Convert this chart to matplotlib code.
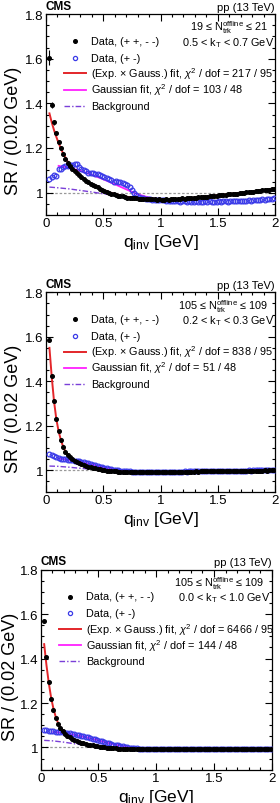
import numpy as np
import matplotlib
matplotlib.use('Agg')
import matplotlib.pyplot as plt
from matplotlib.lines import Line2D
from matplotlib.ticker import MultipleLocator, FuncFormatter

plt.rcParams['font.family'] = ['Liberation Sans', 'DejaVu Sans']
plt.rcParams['mathtext.fontset'] = 'custom'
plt.rcParams['mathtext.rm'] = 'Liberation Sans'
plt.rcParams['mathtext.it'] = 'Liberation Sans:italic'
plt.rcParams['mathtext.bf'] = 'Liberation Sans:bold'

# ---------------- data ----------------
q_centers = np.round(0.03 + 0.02 * np.arange(99), 3)  # bin centres [GeV]

# Panel 1: 19 <= N <= 21, 0.5 < kT < 0.7
p1_like = [1.605, 1.392, 1.315, 1.265, 1.228, 1.200, 1.172, 1.150, 1.132, 1.118,
           1.106, 1.095, 1.086, 1.077, 1.068, 1.060, 1.052, 1.046, 1.040, 1.035,
           1.030, 1.025, 1.018, 1.012, 1.008, 1.003, 0.999, 0.996, 0.993, 0.990,
           0.987, 0.985, 0.983, 0.980, 0.978, 0.977, 0.976, 0.975, 0.974, 0.973,
           0.972, 0.973, 0.971, 0.972, 0.970, 0.971, 0.970, 0.969, 0.970, 0.968,
           0.969, 0.970, 0.968, 0.971, 0.970, 0.972, 0.971, 0.973, 0.974, 0.973,
           0.975, 0.976, 0.975, 0.978, 0.977, 0.979, 0.980, 0.981, 0.982, 0.981,
           0.984, 0.985, 0.986, 0.985, 0.988, 0.989, 0.990, 0.989, 0.992, 0.993,
           0.994, 0.996, 0.995, 0.998, 0.999, 1.000, 1.002, 1.001, 1.004, 1.005,
           1.006, 1.008, 1.007, 1.010, 1.012, 1.011, 1.014, 1.016, 1.015]
p1_like_err = [0.035, 0.015, 0.010, 0.007, 0.006]
p1_unlike = [1.060, 1.068, 1.078, 1.074, 1.105, 1.108, 1.115, 1.120, 1.118, 1.122,
             1.125, 1.130, 1.127, 1.115, 1.105, 1.100, 1.095, 1.090, 1.090, 1.088,
             1.084, 1.082, 1.080, 1.075, 1.070, 1.066, 1.062, 1.058, 1.050, 1.052,
             1.048, 1.046, 1.044, 1.040, 1.035, 1.025, 1.012, 0.998, 0.988, 0.982,
             0.978, 0.975, 0.973, 0.972, 0.970, 0.969, 0.968, 0.967, 0.968, 0.966,
             0.965, 0.964, 0.963, 0.962, 0.963, 0.961, 0.962, 0.960, 0.961, 0.962,
             0.960, 0.961, 0.959, 0.960, 0.961, 0.960, 0.959, 0.960, 0.961, 0.960,
             0.961, 0.960, 0.959, 0.960, 0.961, 0.960, 0.962, 0.961, 0.960, 0.961,
             0.962, 0.961, 0.962, 0.963, 0.962, 0.963, 0.964, 0.965, 0.964, 0.966,
             0.967, 0.968, 0.969, 0.970, 0.969, 0.971, 0.972, 0.973, 0.974]
p1_expg_q = [0.03, 0.05, 0.07, 0.09, 0.11, 0.13, 0.15, 0.20, 0.25, 0.30, 0.35, 0.40, 0.45,
             0.50, 0.55, 0.60, 0.70, 0.80, 0.90, 1.00, 1.20, 1.40, 1.60, 1.80, 2.00]
p1_expg = [1.355, 1.315, 1.280, 1.250, 1.222, 1.198, 1.175, 1.130, 1.097, 1.072, 1.052, 1.037, 1.024,
           1.012, 1.002, 0.994, 0.982, 0.975, 0.971, 0.969, 0.973, 0.983, 0.994, 1.005, 1.017]
p1_gaus_q = [0.11, 0.20, 0.30, 0.40, 0.50, 0.60, 0.70, 0.80, 0.90, 1.00, 1.10]
p1_gaus = [1.120, 1.112, 1.098, 1.080, 1.060, 1.038, 1.015, 0.993, 0.978, 0.970, 0.966]
p1_bkg_q = [0.03, 0.10, 0.20, 0.30, 0.40, 0.50, 0.60, 0.70, 0.80, 1.00, 1.20, 1.40, 1.60, 1.80, 2.00]
p1_bkg = [1.025, 1.022, 1.017, 1.010, 1.003, 0.995, 0.988, 0.981, 0.976, 0.970, 0.973, 0.983, 0.994, 1.005, 1.017]

# Panel 2: 105 <= N <= 109, 0.2 < kT < 0.3
p2_like = [1.585, 1.425, 1.310, 1.228, 1.175, 1.135, 1.105, 1.083, 1.068, 1.057,
           1.049, 1.042, 1.036, 1.031, 1.027, 1.023, 1.019, 1.016, 1.013, 1.010,
           1.008, 1.005, 1.003, 1.001, 0.999, 0.998, 0.997, 0.996, 0.995, 0.994,
           0.993, 0.993, 0.992, 0.992, 0.991, 0.991, 0.991, 0.990, 0.990, 0.990,
           0.990, 0.990, 0.990, 0.991, 0.990, 0.990, 0.991, 0.990, 0.991, 0.991,
           0.991, 0.991, 0.992, 0.991, 0.992, 0.992, 0.992, 0.992, 0.993, 0.992,
           0.993, 0.993, 0.993, 0.993, 0.994, 0.993, 0.994, 0.994, 0.994, 0.994,
           0.995, 0.994, 0.995, 0.995, 0.995, 0.995, 0.996, 0.995, 0.996, 0.996,
           0.996, 0.996, 0.997, 0.996, 0.997, 0.997, 0.997, 0.997, 0.998, 0.997,
           0.998, 0.998, 0.998, 0.998, 0.999, 0.998, 0.999, 0.999, 0.999]
p2_like_err = [0.006, 0.004, 0.003]
p2_unlike = [1.072, 1.067, 1.062, 1.058, 1.055, 1.052, 1.050, 1.048, 1.047, 1.046,
             1.045, 1.043, 1.041, 1.039, 1.037, 1.035, 1.033, 1.030, 1.027, 1.024,
             1.021, 1.018, 1.015, 1.012, 1.010, 1.008, 1.006, 1.004, 1.002, 1.001,
             0.999, 0.998, 0.997, 0.996, 0.995, 0.994, 0.993, 0.993, 0.992, 0.992,
             0.991, 0.991, 0.991, 0.990, 0.991, 0.991, 0.990, 0.991, 0.991, 0.992,
             0.991, 0.992, 0.992, 0.992, 0.993, 0.992, 0.993, 0.993, 0.993, 0.994,
             0.993, 0.994, 0.994, 0.994, 0.995, 0.994, 0.995, 0.995, 0.995, 0.996,
             0.995, 0.996, 0.996, 0.996, 0.996, 0.997, 0.996, 0.997, 0.997, 0.997,
             0.997, 0.998, 0.997, 0.998, 0.998, 0.998, 0.998, 0.999, 0.998, 0.999,
             0.999, 0.999, 0.999, 1.000, 0.999, 1.000, 1.000, 1.000, 1.000]
p2_expg_q = [0.03, 0.05, 0.07, 0.09, 0.11, 0.13, 0.15, 0.17, 0.20, 0.25, 0.30, 0.35, 0.40,
             0.50, 0.60, 0.80, 1.00, 1.50, 2.00]
p2_expg = [1.550, 1.420, 1.310, 1.230, 1.175, 1.135, 1.105, 1.084, 1.062, 1.042, 1.029, 1.019, 1.011,
           1.000, 0.994, 0.990, 0.990, 0.994, 0.999]
p2_gaus_q = [0.11, 0.20, 0.30, 0.40, 0.50, 0.60, 0.70, 0.80, 1.00, 1.10]
p2_gaus = [1.052, 1.046, 1.037, 1.025, 1.012, 1.003, 0.996, 0.993, 0.991, 0.991]
p2_bkg_q = [0.03, 0.10, 0.20, 0.30, 0.40, 0.50, 0.60, 0.80, 1.00, 1.50, 2.00]
p2_bkg = [1.018, 1.017, 1.013, 1.008, 1.004, 1.000, 0.995, 0.990, 0.990, 0.994, 0.999]

# Panel 3: 105 <= N <= 109, 0.0 < kT < 1.0
p3_like = [1.570, 1.405, 1.295, 1.220, 1.168, 1.132, 1.107, 1.088, 1.073, 1.062,
           1.053, 1.046, 1.040, 1.035, 1.030, 1.026, 1.022, 1.019, 1.016, 1.013,
           1.011, 1.009, 1.007, 1.005, 1.003, 1.002, 1.000, 0.999, 0.998, 0.997,
           0.996, 0.996, 0.995, 0.995, 0.994, 0.994, 0.993, 0.993, 0.993, 0.992,
           0.992, 0.992, 0.992, 0.991, 0.992, 0.991, 0.991, 0.991, 0.991, 0.991,
           0.991, 0.991, 0.991, 0.991, 0.991, 0.991, 0.991, 0.991, 0.991, 0.991,
           0.991, 0.991, 0.991, 0.991, 0.991, 0.991, 0.991, 0.991, 0.991, 0.991,
           0.991, 0.991, 0.991, 0.991, 0.991, 0.991, 0.991, 0.991, 0.991, 0.991,
           0.991, 0.991, 0.991, 0.991, 0.991, 0.991, 0.991, 0.991, 0.991, 0.991,
           0.991, 0.991, 0.991, 0.991, 0.991, 0.991, 0.991, 0.991, 0.991]
p3_like_err = [0.004, 0.003, 0.002]
p3_unlike = [1.080, 1.078, 1.076, 1.074, 1.072, 1.071, 1.070, 1.069, 1.068, 1.067,
             1.066, 1.064, 1.062, 1.060, 1.058, 1.055, 1.053, 1.050, 1.048, 1.046,
             1.043, 1.040, 1.037, 1.034, 1.031, 1.028, 1.025, 1.022, 1.019, 1.016,
             1.013, 1.011, 1.009, 1.007, 1.005, 1.003, 1.001, 0.999, 0.998, 0.997,
             0.996, 0.995, 0.995, 0.994, 0.994, 0.993, 0.993, 0.993, 0.992, 0.992,
             0.992, 0.992, 0.992, 0.991, 0.992, 0.991, 0.991, 0.991, 0.991, 0.991,
             0.991, 0.991, 0.991, 0.991, 0.991, 0.991, 0.991, 0.991, 0.991, 0.991,
             0.991, 0.991, 0.991, 0.991, 0.991, 0.991, 0.991, 0.991, 0.991, 0.991,
             0.991, 0.991, 0.991, 0.991, 0.991, 0.991, 0.991, 0.991, 0.991, 0.991,
             0.991, 0.991, 0.991, 0.991, 0.991, 0.991, 0.991, 0.991, 0.991]
p3_expg_q = [0.03, 0.05, 0.07, 0.09, 0.11, 0.13, 0.15, 0.17, 0.20, 0.25, 0.30, 0.35, 0.40,
             0.50, 0.60, 0.80, 1.00, 2.00]
p3_expg = [1.465, 1.370, 1.290, 1.225, 1.175, 1.138, 1.110, 1.090, 1.068, 1.045, 1.030, 1.020, 1.012,
           1.003, 0.998, 0.993, 0.991, 0.991]
p3_gaus_q = [0.11, 0.20, 0.30, 0.40, 0.50, 0.60, 0.70, 0.80, 0.90, 1.00, 1.10]
p3_gaus = [1.070, 1.065, 1.056, 1.045, 1.032, 1.018, 1.007, 0.999, 0.994, 0.992, 0.991]
p3_bkg_q = [0.03, 0.10, 0.20, 0.30, 0.40, 0.50, 0.60, 0.80, 1.00, 2.00]
p3_bkg = [1.032, 1.030, 1.024, 1.016, 1.009, 1.003, 0.999, 0.994, 0.991, 0.991]

p1_text = ['19 \u2264 N$_{\\mathrm{trk}}^{\\mathrm{offline}}$ \u2264 21', '0.5 < k$_{\\mathrm{T}}$ < 0.7 GeV']
p2_text = ['105 \u2264 N$_{\\mathrm{trk}}^{\\mathrm{offline}}$ \u2264 109', '0.2 < k$_{\\mathrm{T}}$ < 0.3 GeV']
p3_text = ['105 \u2264 N$_{\\mathrm{trk}}^{\\mathrm{offline}}$ \u2264 109', '0.0 < k$_{\\mathrm{T}}$ < 1.0 GeV']
p1_chi2 = ['217 / 95', '103 / 48']
p2_chi2 = ['838 / 95', '51 / 48']
p3_chi2 = ['6466 / 95', '144 / 48']

# ---------------- styling ----------------
C_RED = '#e3262a'
C_MAG = '#ff20ff'
C_BLUE = '#3a3ae8'
C_BKG = '#7a3fd8'

panels = [
    dict(pos=[46/280, 1-216/804, 229/280, 201/804], like=p1_like, err=p1_like_err, unlike=p1_unlike,
         eq=p1_expg_q, ev=p1_expg, gq=p1_gaus_q, gv=p1_gaus, bq=p1_bkg_q, bv=p1_bkg,
         text=p1_text, chi2=p1_chi2, ylab_y=0.423, ylab_x=-0.103),
    dict(pos=[46/280, 1-493.3/804, 229/280, 200/804], like=p2_like, err=p2_like_err, unlike=p2_unlike,
         eq=p2_expg_q, ev=p2_expg, gq=p2_gaus_q, gv=p2_gaus, bq=p2_bkg_q, bv=p2_bkg,
         text=p2_text, chi2=p2_chi2, ylab_y=0.42, ylab_x=-0.103),
    dict(pos=[40.7/280, 1-770.7/804, 231/280, 200/804], like=p3_like, err=p3_like_err, unlike=p3_unlike,
         eq=p3_expg_q, ev=p3_expg, gq=p3_gaus_q, gv=p3_gaus, bq=p3_bkg_q, bv=p3_bkg,
         text=p3_text, chi2=p3_chi2, ylab_y=0.47, ylab_x=-0.094),
]

fig = plt.figure(figsize=(2.8, 8.04), dpi=100)
fmt = FuncFormatter(lambda v, p: ('%g' % round(v, 2)))

for P in panels:
    ax = fig.add_axes(P['pos'])
    ax.set_xlim(0, 2)
    ax.set_ylim(0.9, 1.8)
    ax.axhline(1.0, color='#999999', lw=0.9, ls=(0, (2, 1.5)), zorder=1)
    ax.plot(P['bq'], P['bv'], color=C_BKG, lw=1.0, ls=(0, (4, 1.5, 1, 1.5)), zorder=3)
    ax.plot(P['gq'], P['gv'], color=C_MAG, lw=1.3, zorder=4)
    ax.plot(q_centers, P['unlike'], ls='none', marker='o', ms=3.4, mfc='none',
            mec=C_BLUE, mew=0.9, zorder=5)
    ax.plot(P['eq'], P['ev'], color=C_RED, lw=1.4, zorder=6)
    yerr = list(P['err']) + [0.002] * (len(q_centers) - len(P['err']))
    ax.errorbar(q_centers, P['like'], yerr=yerr, ls='none', marker='o', ms=2.6,
                color='black', elinewidth=0.8, capsize=0, zorder=7)

    ax.xaxis.set_major_locator(MultipleLocator(0.5))
    ax.xaxis.set_minor_locator(MultipleLocator(0.1))
    ax.yaxis.set_major_locator(MultipleLocator(0.2))
    ax.yaxis.set_minor_locator(MultipleLocator(0.05))
    ax.xaxis.set_major_formatter(fmt)
    ax.yaxis.set_major_formatter(fmt)
    ax.tick_params(which='both', direction='in', top=True, right=True, labelsize=9.5,
                   width=0.8, pad=1.5)
    ax.tick_params(which='major', length=5)
    ax.tick_params(which='minor', length=2.5)
    for s in ax.spines.values():
        s.set_linewidth(0.9)

    ax.set_xlabel(r'q$_{\mathrm{inv}}$ [GeV]', fontsize=12.5, labelpad=2)
    ax.set_ylabel('SR / (0.02 GeV)', fontsize=13)
    ax.yaxis.set_label_coords(P['ylab_x'], P['ylab_y'])

    ax.text(0.0, 1.012, 'CMS', transform=ax.transAxes, fontsize=8.5, fontweight='bold',
            ha='left', va='bottom')
    ax.text(1.0, 1.012, 'pp (13 TeV)', transform=ax.transAxes, fontsize=8,
            ha='right', va='bottom')
    ax.text(0.97, 0.935, P['text'][0], transform=ax.transAxes, fontsize=7.8, ha='right', va='center')
    ax.text(0.995, 0.862, P['text'][1], transform=ax.transAxes, fontsize=7.8, ha='right', va='center')

    rows = [0.866, 0.783, 0.704, 0.624, 0.543]
    labels = ['Data, (+ +, - -)', 'Data, (+ -)',
              r'(Exp. $\times$ Gauss.) fit, $\chi^{2}$ / dof = ' + P['chi2'][0],
              r'Gaussian fit, $\chi^{2}$ / dof = ' + P['chi2'][1],
              'Background']
    tr = ax.transAxes
    ax.add_line(Line2D([0.127], [rows[0]], transform=tr, ls='none', marker='o', ms=2.6, color='black'))
    ax.add_line(Line2D([0.127], [rows[1]], transform=tr, ls='none', marker='o', ms=3.0,
                       mfc='none', mec=C_BLUE, mew=0.9))
    ax.add_line(Line2D([0.078, 0.176], [rows[2]] * 2, transform=tr, color=C_RED, lw=1.4))
    ax.add_line(Line2D([0.078, 0.176], [rows[3]] * 2, transform=tr, color=C_MAG, lw=1.3))
    ax.add_line(Line2D([0.078, 0.176], [rows[4]] * 2, transform=tr, color=C_BKG, lw=1.0,
                       ls=(0, (4, 1.5, 1, 1.5))))
    for r, lab in zip(rows, labels):
        ax.text(0.196, r, lab, transform=tr, fontsize=7.8, ha='left', va='center')

fig.savefig('out.png', dpi=100)
